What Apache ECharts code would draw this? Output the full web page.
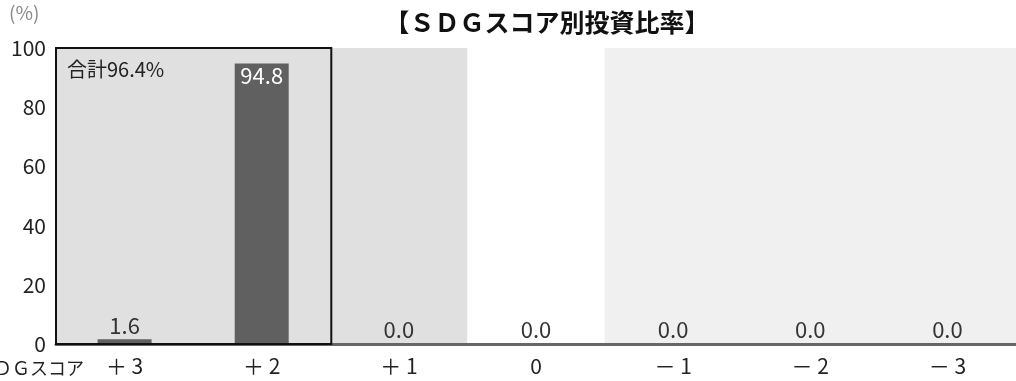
<!DOCTYPE html>
<html>
<head>
<meta charset="utf-8">
<script src="https://cdn.jsdelivr.net/npm/echarts@6/dist/echarts.min.js"></script>
<style>
  html, body { margin: 0; padding: 0; background: #fff; }
  #chart { width: 1016px; height: 381px; }
</style>
</head>
<body>
<div id="chart"></div>
<script>
// カテゴリとデータ
const categories = ['＋ 3', '＋ 2', '＋ 1', '0', '－ 1', '－ 2', '－ 3'];
const ratios = [1.6, 94.8, 0.0, 0.0, 0.0, 0.0, 0.0];
const yTicks = [0, 20, 40, 60, 80, 100];
const totalLabel = '合計96.4%';
const boxCategories = ['＋ 3', '＋ 2'];

const FONT = '"Noto Sans CJK JP", "Noto Sans", sans-serif';

const chart = echarts.init(document.getElementById('chart'));

const option = {
  animation: false,
  title: {
    text: '【ＳＤＧスコア別投資比率】',
    left: 542,
    textAlign: 'center',
    top: 5,
    textStyle: { fontFamily: FONT, fontSize: 25, fontWeight: 'bold', color: '#111' }
  },
  grid: { left: 56, right: -6, top: 48, bottom: 37 },
  xAxis: {
    type: 'category',
    data: categories,
    axisLine: { show: true, lineStyle: { color: '#666', width: 3 } },
    axisTick: { show: false },
    axisLabel: { fontFamily: FONT, fontSize: 21, color: '#222', margin: 12 },
    splitArea: {
      show: true,
      areaStyle: { color: ['#e0e0e0', '#e0e0e0', '#e0e0e0', '#ffffff', '#f0f0f0', '#f0f0f0', '#f0f0f0'] }
    }
  },
  yAxis: {
    type: 'value',
    min: yTicks[0],
    max: yTicks[yTicks.length - 1],
    interval: 20,
    axisLine: { show: false },
    axisTick: { show: false },
    splitLine: { show: false },
    axisLabel: { fontFamily: FONT, fontSize: 21, color: '#222', margin: 10 }
  },
  series: [
    {
      type: 'bar',
      barWidth: 54,
      itemStyle: { color: '#606060' },
      label: {
        show: true,
        fontFamily: FONT,
        fontSize: 22,
        color: '#333',
        formatter: p => p.value.toFixed(1),
        position: 'top',
        distance: 3
      },
      // 94.8 はバーの内側に白で
      data: ratios.map(v => v > 50
        ? { value: v, label: { position: 'insideTop', color: '#fff', distance: 1 } }
        : v)
    }
  ]
};

chart.setOption(option);

// 枠と注記をスケールから配置
const c0 = chart.convertToPixel({ xAxisIndex: 0 }, boxCategories[0]);
const c1 = chart.convertToPixel({ xAxisIndex: 0 }, boxCategories[1]);
const band = c1 - c0;
const yTop = chart.convertToPixel({ yAxisIndex: 0 }, 100);
const yBottom = chart.convertToPixel({ yAxisIndex: 0 }, 0);
const bx = c0 - band / 2;

chart.setOption({
  graphic: [
    {
      type: 'rect',
      z: 10,
      shape: { x: bx, y: yTop, width: band * 2 + 1, height: yBottom - yTop },
      style: { fill: null, stroke: '#111', lineWidth: 2 }
    },
    {
      type: 'text',
      z: 11,
      left: bx + 11,
      top: yTop + 11,
      style: { text: totalLabel, font: '20px ' + FONT, fill: '#222' }
    },
    {
      type: 'text',
      left: 9,
      top: 3,
      style: { text: '(%)', font: '19px ' + FONT, fill: '#888' }
    },
    {
      type: 'text',
      z: 11,
      style: {
        text: 'ＳＤＧスコア',
        font: '18px ' + FONT,
        fill: '#222',
        x: 84,
        y: yBottom + 24,
        align: 'right',
        verticalAlign: 'middle'
      }
    }
  ]
});
</script>
</body>
</html>
